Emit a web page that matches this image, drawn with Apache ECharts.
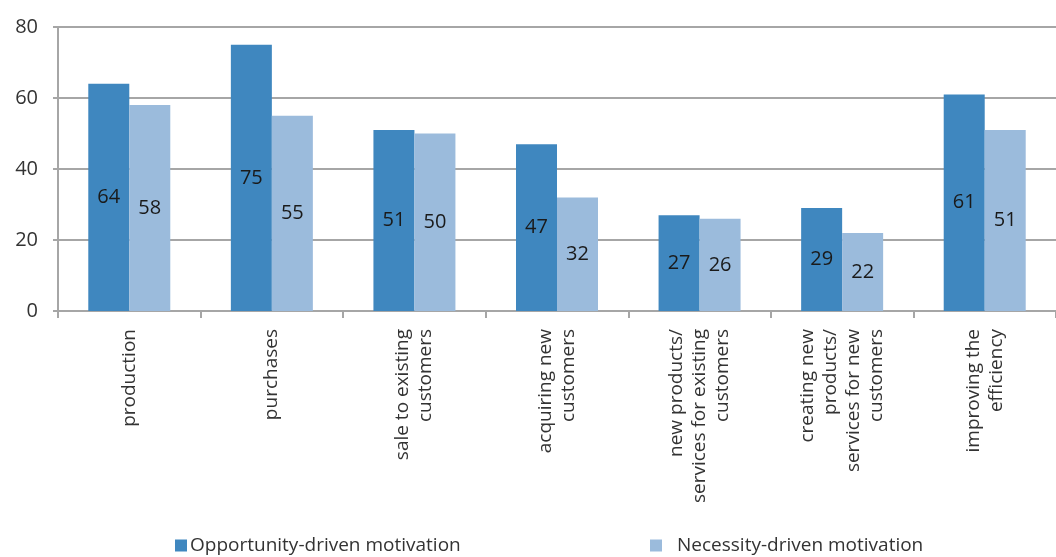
<!DOCTYPE html>
<html>
<head>
<meta charset="utf-8">
<script src="https://cdn.jsdelivr.net/npm/echarts@6/dist/echarts.min.js"></script>
<style>
  html, body { margin: 0; padding: 0; background: #fff; }
  #chart { width: 1056px; height: 557px; }
</style>
</head>
<body>
<div id="chart"></div>
<script>
// categories on the x axis (line breaks as in the picture)
const categories = [
  "production",
  "purchases",
  "sale to existing\ncustomers",
  "acquiring new\ncustomers",
  "new products/\nservices for existing\ncustomers",
  "creating new\nproducts/\nservices for new\ncustomers",
  "improving the\nefficiency"
];
const opportunity = [64, 75, 51, 47, 27, 29, 61];
const necessity = [58, 55, 50, 32, 26, 22, 51];
const yTicks = { min: 0, max: 80, interval: 20 };

const font = "'Open Sans', 'Noto Sans', sans-serif";
const gridColor = "#a6a6a6";

let myChart = echarts.init(document.getElementById("chart"));
myChart.setOption({
  animation: false,
  textStyle: { fontFamily: font },
  grid: { left: 58, top: 27, width: 1008, bottom: 246 },
  legend: [
    {
      left: 175, top: 536, padding: 0,
      itemWidth: 12, itemHeight: 12, itemGap: 0,
      icon: "rect",
      textStyle: { fontFamily: font, fontSize: 19, color: "#333", padding: [0, 0, 0, -2] },
      data: ["Opportunity-driven motivation"]
    },
    {
      left: 650, top: 536, padding: 0,
      itemWidth: 12, itemHeight: 12, itemGap: 0,
      icon: "rect",
      textStyle: { fontFamily: font, fontSize: 19, color: "#333", padding: [0, 0, 0, 10] },
      data: ["Necessity-driven motivation"]
    }
  ],
  xAxis: {
    type: "category",
    data: categories,
    axisLine: { lineStyle: { color: gridColor, width: 2 } },
    axisTick: { show: true, length: 7, lineStyle: { color: gridColor, width: 2 } },
    axisLabel: {
      rotate: 90,
      interval: 0,
      margin: 18,
      fontSize: 19,
      lineHeight: 23,
      color: "#333",
      fontFamily: font
    }
  },
  yAxis: {
    type: "value",
    min: yTicks.min,
    max: yTicks.max,
    interval: yTicks.interval,
    axisLine: { show: true, lineStyle: { color: gridColor, width: 2 } },
    axisTick: { show: true, length: 5, lineStyle: { color: gridColor, width: 2 } },
    splitLine: { lineStyle: { color: gridColor, width: 2 } },
    axisLabel: { fontSize: 20, color: "#333", margin: 20, fontFamily: font }
  },
  series: [
    {
      name: "Opportunity-driven motivation",
      type: "bar",
      data: opportunity,
      barWidth: 41,
      barGap: "0%",
      itemStyle: { color: "#3f87bf" },
      label: { show: true, position: "inside", fontSize: 20, color: "#1a1a1a", fontFamily: font }
    },
    {
      name: "Necessity-driven motivation",
      type: "bar",
      data: necessity,
      barWidth: 41,
      barGap: "0%",
      itemStyle: { color: "#9bbbdc" },
      label: { show: true, position: "inside", fontSize: 20, color: "#1a1a1a", fontFamily: font }
    }
  ]
});
</script>
</body>
</html>
